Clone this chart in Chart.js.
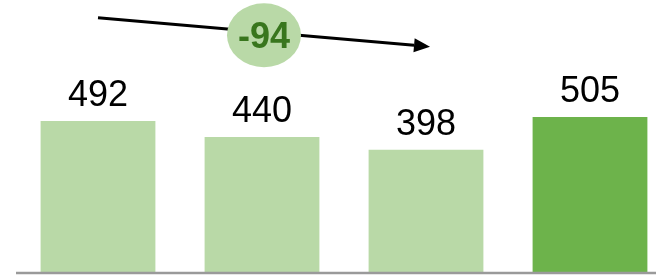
<!DOCTYPE html>
<html>
<head>
<meta charset="utf-8">
<script src="https://cdn.jsdelivr.net/npm/chart.js@4.4.1/dist/chart.umd.min.js"></script>
<style>
  html, body { margin: 0; padding: 0; background: #fff; overflow: hidden; }
  #wrap { position: relative; width: 672px; height: 276px; }
</style>
</head>
<body>
<div id="wrap"><canvas id="chart"></canvas></div>
<script>
// ── Data ──────────────────────────────────────────────────────────────────────
const CATEGORIES = ['A', 'B', 'C', 'D'];
const VALUES     = [492, 440, 398, 505];
const COLORS     = ['#b9d9a7', '#b9d9a7', '#b9d9a7', '#6db34b'];
const DIFF_FROM  = 0;   // arrow starts over this bar
const DIFF_TO    = 2;   // ...and ends over this one
const ARROW_LIFT = 336; // arrow sits this many units above the bars

const FONT = '"Liberation Sans", Arial, sans-serif';

const overlay = {
  id: 'overlay',
  afterDatasetsDraw(chart) {
    const { ctx, chartArea: a, scales: { x, y } } = chart;
    const bars = chart.getDatasetMeta(0).data;

    // baseline
    ctx.save();
    ctx.strokeStyle = '#9a9a9a'; ctx.lineWidth = 2.5;
    ctx.beginPath(); ctx.moveTo(a.left, a.bottom + 1); ctx.lineTo(a.right, a.bottom + 1); ctx.stroke();

    // value labels
    ctx.fillStyle = '#000'; ctx.font = `36px ${FONT}`;
    ctx.textAlign = 'center'; ctx.textBaseline = 'alphabetic';
    bars.forEach((b, i) => ctx.fillText(VALUES[i], b.x, b.y - 15));

    // trend arrow
    const x0 = x.getPixelForValue(DIFF_FROM), y0 = y.getPixelForValue(VALUES[DIFF_FROM] + ARROW_LIFT);
    const x1 = x.getPixelForValue(DIFF_TO) + 4, y1 = y.getPixelForValue(VALUES[DIFF_TO] + ARROW_LIFT);
    const ang = Math.atan2(y1 - y0, x1 - x0), hl = 16, hw = 7;
    ctx.strokeStyle = '#000'; ctx.lineWidth = 3;
    ctx.beginPath(); ctx.moveTo(x0, y0);
    ctx.lineTo(x1 - hl * Math.cos(ang), y1 - hl * Math.sin(ang)); ctx.stroke();
    ctx.fillStyle = '#000';
    ctx.beginPath();
    ctx.moveTo(x1, y1);
    ctx.lineTo(x1 - hl * Math.cos(ang) + hw * Math.sin(ang), y1 - hl * Math.sin(ang) - hw * Math.cos(ang));
    ctx.lineTo(x1 - hl * Math.cos(ang) - hw * Math.sin(ang), y1 - hl * Math.sin(ang) + hw * Math.cos(ang));
    ctx.closePath(); ctx.fill();

    // difference bubble
    const mx = (x0 + x1) / 2, my = (y0 + y1) / 2 + 3;
    ctx.fillStyle = '#b9d9a7';
    ctx.beginPath(); ctx.ellipse(mx, my, 37, 32, 0, 0, Math.PI * 2); ctx.fill();
    ctx.fillStyle = '#38761d'; ctx.font = `bold 36px ${FONT}`;
    ctx.textBaseline = 'alphabetic';
    ctx.fillText(VALUES[DIFF_TO] - VALUES[DIFF_FROM], mx, my + 13);
    ctx.restore();
  }
};

new Chart(document.getElementById('chart'), {
  type: 'bar',
  data: {
    labels: CATEGORIES,
    datasets: [{ data: VALUES, backgroundColor: COLORS, barPercentage: 0.7, categoryPercentage: 1 }]
  },
  options: {
    responsive: true, maintainAspectRatio: false, animation: false,
    layout: { padding: { left: 16, right: 0, top: 0, bottom: 4 } },
    plugins: { legend: { display: false }, tooltip: { enabled: false } },
    scales: {
      x: { display: false },
      y: { display: false, min: 0, max: 886 }
    }
  },
  plugins: [overlay]
});
</script>
</body>
</html>
